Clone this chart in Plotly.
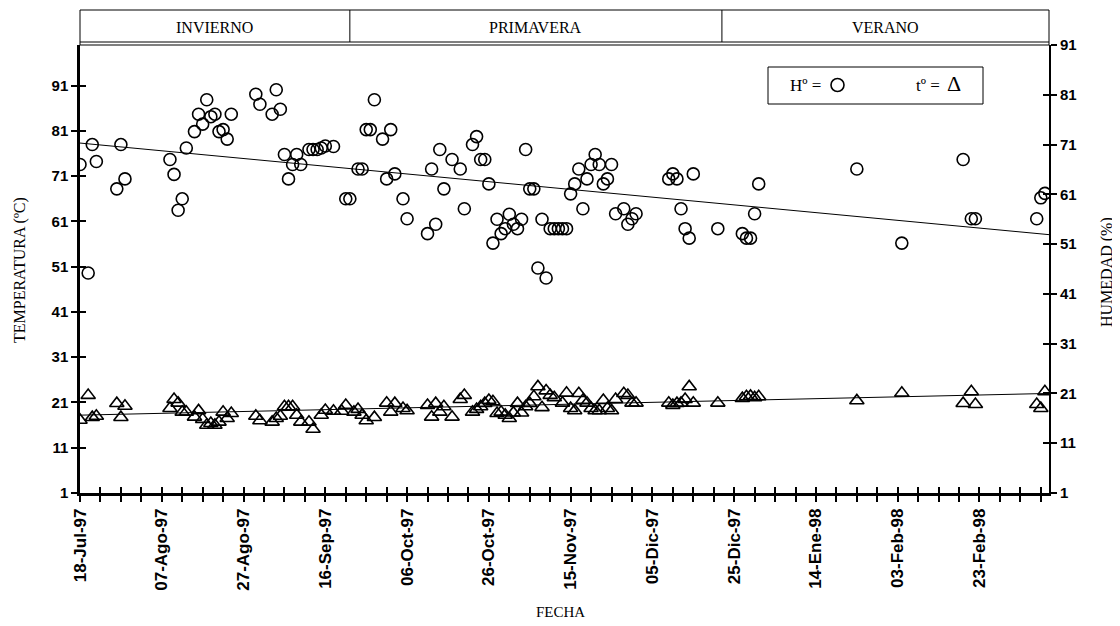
import plotly.graph_objects as go
import pandas as pd

# ---------------- data ----------------
fechas_h = ["1997-07-18","1997-07-20","1997-07-21","1997-07-22","1997-07-27","1997-07-28","1997-07-29",
            "1997-08-09","1997-08-10","1997-08-11","1997-08-12","1997-08-13","1997-08-15","1997-08-16",
            "1997-08-17","1997-08-18","1997-08-19","1997-08-20","1997-08-21","1997-08-22","1997-08-23",
            "1997-08-24","1997-08-30","1997-08-31","1997-09-03","1997-09-04","1997-09-05","1997-09-06",
            "1997-09-07","1997-09-08","1997-09-09","1997-09-10","1997-09-12","1997-09-13","1997-09-14",
            "1997-09-15","1997-09-16","1997-09-18","1997-09-21","1997-09-22","1997-09-24","1997-09-25",
            "1997-09-26","1997-09-27","1997-09-28","1997-09-30","1997-10-01","1997-10-02","1997-10-03",
            "1997-10-05","1997-10-06","1997-10-11","1997-10-12","1997-10-13","1997-10-14","1997-10-15",
            "1997-10-17","1997-10-19","1997-10-20","1997-10-22","1997-10-23","1997-10-24","1997-10-25",
            "1997-10-26","1997-10-27","1997-10-28","1997-10-29","1997-10-30","1997-10-31","1997-11-01",
            "1997-11-02","1997-11-03","1997-11-04","1997-11-05","1997-11-06","1997-11-07","1997-11-08",
            "1997-11-09","1997-11-10","1997-11-11","1997-11-12","1997-11-13","1997-11-14","1997-11-15",
            "1997-11-16","1997-11-17","1997-11-18","1997-11-19","1997-11-20","1997-11-21","1997-11-22",
            "1997-11-23","1997-11-24","1997-11-25","1997-11-26","1997-11-28","1997-11-29","1997-11-30",
            "1997-12-01","1997-12-09","1997-12-10","1997-12-11","1997-12-12","1997-12-13","1997-12-14",
            "1997-12-15","1997-12-21","1997-12-27","1997-12-28","1997-12-29","1997-12-30","1997-12-31",
            "1998-01-24","1998-02-04","1998-02-19","1998-02-21","1998-02-22","1998-03-09","1998-03-10",
            "1998-03-11"]
humedad = [67.0,45.2,71.0,67.6,62.1,71.0,64.1,
           68.0,65.0,57.8,60.1,70.3,73.6,77.1,
           75.1,80.0,76.6,77.1,73.6,74.0,72.1,
           77.1,81.1,79.1,77.1,82.0,78.1,69.0,
           64.1,67.0,69.0,67.0,70.0,70.0,70.0,
           70.3,70.7,70.6,60.1,60.1,66.1,66.1,
           74.0,74.0,80.0,72.1,64.1,74.0,65.1,
           60.1,56.1,53.1,66.1,55.0,70.0,62.1,
           68.0,66.1,58.1,71.0,72.6,68.0,68.0,
           63.1,51.2,56.0,53.1,54.1,57.0,55.0,
           54.1,56.0,70.0,62.1,62.1,46.2,56.0,
           44.2,54.1,54.1,54.1,54.1,54.1,61.1,
           63.1,66.1,58.1,64.1,67.0,69.0,67.0,
           63.1,64.1,67.0,57.1,58.1,55.0,56.1,
           57.1,64.1,65.1,64.1,58.1,54.1,52.2,
           65.1,54.1,53.1,52.2,52.2,57.1,63.1,
           66.1,51.2,68.0,56.1,56.1,56.1,60.3,
           61.2]

fechas_t = ["1997-07-18","1997-07-20","1997-07-21","1997-07-22","1997-07-27","1997-07-28","1997-07-29",
            "1997-08-09","1997-08-10","1997-08-11","1997-08-12","1997-08-13","1997-08-15","1997-08-16",
            "1997-08-17","1997-08-18","1997-08-19","1997-08-20","1997-08-21","1997-08-22","1997-08-23",
            "1997-08-24","1997-08-30","1997-08-31","1997-09-03","1997-09-04","1997-09-05","1997-09-06",
            "1997-09-07","1997-09-08","1997-09-09","1997-09-10","1997-09-12","1997-09-13","1997-09-15",
            "1997-09-16","1997-09-18","1997-09-20","1997-09-21","1997-09-23","1997-09-24","1997-09-25",
            "1997-09-26","1997-09-28","1997-10-01","1997-10-02","1997-10-03","1997-10-05","1997-10-06",
            "1997-10-11","1997-10-12","1997-10-13","1997-10-14","1997-10-15","1997-10-17","1997-10-19",
            "1997-10-20","1997-10-22","1997-10-23","1997-10-24","1997-10-25","1997-10-26","1997-10-27",
            "1997-10-28","1997-10-29","1997-10-30","1997-10-31","1997-11-01","1997-11-02","1997-11-03",
            "1997-11-04","1997-11-05","1997-11-06","1997-11-07","1997-11-08","1997-11-09","1997-11-10",
            "1997-11-11","1997-11-13","1997-11-14","1997-11-15","1997-11-16","1997-11-17","1997-11-18",
            "1997-11-19","1997-11-20","1997-11-21","1997-11-22","1997-11-23","1997-11-24","1997-11-25",
            "1997-11-26","1997-11-28","1997-11-29","1997-11-30","1997-12-01","1997-12-09","1997-12-10",
            "1997-12-11","1997-12-12","1997-12-13","1997-12-14","1997-12-15","1997-12-21","1997-12-27",
            "1997-12-28","1997-12-29","1997-12-30","1997-12-31","1998-01-24","1998-02-04","1998-02-19",
            "1998-02-21","1998-02-22","1998-03-09","1998-03-10","1998-03-11"]
temperatura = [17.1,22.6,17.7,18.0,20.8,17.7,20.2,
               19.7,21.7,20.9,18.9,18.9,17.8,19.2,
               17.3,16.0,16.4,16.0,16.7,18.9,17.5,
               18.6,18.0,17.0,16.7,17.5,18.0,20.1,
               20.1,20.1,18.2,16.7,16.7,15.1,18.2,
               19.3,19.1,19.1,20.4,18.9,19.5,18.2,
               17.0,17.7,20.9,18.9,20.8,19.7,19.2,
               20.4,17.8,20.8,18.9,20.1,17.8,21.7,
               22.6,18.9,19.5,20.1,20.8,21.5,21.2,
               18.6,18.9,18.2,17.5,18.7,20.8,18.7,
               20.1,20.8,22.3,24.5,19.9,23.6,22.6,
               22.1,20.9,23.1,19.7,19.2,23.0,21.5,
               20.9,19.7,19.2,19.2,21.5,19.7,19.2,
               21.7,23.0,22.6,20.9,20.9,20.9,20.4,
               20.8,20.9,21.7,24.5,20.9,20.9,21.9,
               22.3,22.4,22.1,22.3,21.4,23.1,20.8,
               23.4,20.6,20.6,19.7,23.4]

tendencia_fechas = ["1997-07-18", "1998-03-12"]
tendencia_h = [71.3, 52.9]
tendencia_t = [18.2, 23.0]

estaciones = ["INVIERNO", "PRIMAVERA", "VERANO"]
limites_estaciones = ["1997-07-18", "1997-09-22", "1997-12-22", "1998-03-12"]

meses = {1: "Ene", 2: "Feb", 3: "Mar", 7: "Jul", 8: "Ago", 9: "Sep",
         10: "Oct", 11: "Nov", 12: "Dic"}
rango_x = ["1997-07-18", "1998-03-12"]
rango_t = [1, 100]
rango_h = [1, 91]
ticks_y = [1, 11, 21, 31, 41, 51, 61, 71, 81, 91]

# ---------------- ticks ----------------
tick_fechas = pd.date_range("1997-07-18", "1998-03-11", freq="5D")
tick_text = [f"{d.day:02d}-{meses[d.month]}-{d.strftime('%y')}" if i % 4 == 0 else ""
             for i, d in enumerate(tick_fechas)]
tick_vals = [d.strftime("%Y-%m-%d") for d in tick_fechas]

SERIF = "Liberation Serif"
SANS = "Liberation Sans"
ytickfont = dict(family=SANS, size=15, color="black", weight="bold")
xtickfont = dict(family=SANS, size=17, color="black", weight="bold")

fig = go.Figure()

# trend lines
fig.add_trace(go.Scatter(x=tendencia_fechas, y=tendencia_h, mode="lines",
                         line=dict(color="black", width=1), yaxis="y2", showlegend=False))
fig.add_trace(go.Scatter(x=tendencia_fechas, y=tendencia_t, mode="lines",
                         line=dict(color="black", width=1), yaxis="y", showlegend=False))
# humidity circles (right axis)
fig.add_trace(go.Scatter(x=fechas_h, y=humedad, mode="markers", yaxis="y2",
                         marker=dict(symbol="circle-open", size=12, color="black",
                                     line=dict(width=1.6, color="black")),
                         showlegend=False))
# temperature triangles (left axis)
fig.add_trace(go.Scatter(x=fechas_t, y=temperatura, mode="markers", yaxis="y",
                         marker=dict(symbol="triangle-up-open", size=12.5, color="black",
                                     line=dict(width=1.6, color="black")),
                         showlegend=False))
# helper invisible traces for crossing tick overlays
fig.add_trace(go.Scatter(x=[rango_x[0]], y=[None], xaxis="x2", yaxis="y", showlegend=False,
                         hoverinfo="skip"))
fig.add_trace(go.Scatter(x=[rango_x[0]], y=[None], xaxis="x", yaxis="y3", showlegend=False,
                         hoverinfo="skip"))
fig.add_trace(go.Scatter(x=[rango_x[0]], y=[None], xaxis="x", yaxis="y4", showlegend=False,
                         hoverinfo="skip"))

# page has an 8px body margin: plot area at page x 80..1049, y 45..493
fig.update_layout(
    width=1120, height=626,
    margin=dict(l=72, r=79, t=37, b=141),
    paper_bgcolor="white", plot_bgcolor="white",
    xaxis=dict(type="date", range=rango_x, tickmode="array", tickvals=tick_vals, ticktext=tick_text,
               ticks="outside", ticklen=6, tickwidth=1.5, tickcolor="black", tickangle=-90,
               tickfont=xtickfont, showline=True, linewidth=2.5, linecolor="black",
               showgrid=False, zeroline=False, anchor="y"),
    xaxis2=dict(type="date", range=rango_x, overlaying="x", side="bottom", anchor="y",
                tickmode="array", tickvals=tick_vals, ticks="inside", ticklen=6, tickwidth=1.5,
                tickcolor="black", showticklabels=False, showline=False, showgrid=False,
                zeroline=False),
    yaxis=dict(range=rango_t, tickmode="array", tickvals=ticks_y, ticks="outside", ticklen=6,
               tickwidth=1.5, tickcolor="black", tickfont=ytickfont, showline=True, linewidth=2.5,
               linecolor="black", showgrid=False, zeroline=False, anchor="x"),
    yaxis2=dict(range=rango_h, overlaying="y", side="right", tickmode="array", tickvals=ticks_y,
                ticks="outside", ticklen=6, tickwidth=1.5, tickcolor="black", tickfont=ytickfont,
                showline=True, linewidth=2, linecolor="black", showgrid=False, zeroline=False,
                anchor="x"),
    yaxis3=dict(range=rango_t, overlaying="y", side="left", tickmode="array", tickvals=ticks_y,
                ticks="inside", ticklen=6, tickwidth=1.5, tickcolor="black", showticklabels=False,
                showline=False, showgrid=False, zeroline=False, anchor="x"),
    yaxis4=dict(range=rango_h, overlaying="y", side="right", tickmode="array", tickvals=ticks_y,
                ticks="inside", ticklen=6, tickwidth=1.5, tickcolor="black", showticklabels=False,
                showline=False, showgrid=False, zeroline=False, anchor="x"),
)

# ---------------- season strip ----------------
PH = 448.0   # plot height px
PW = 969.0   # plot width px
strip_top = 1 + 35 / PH
strip_bot = 1 + 3 / PH
shapes = [
    dict(type="rect", xref="paper", yref="paper", x0=0, x1=1, y0=1, y1=strip_top,
         line=dict(color="black", width=1), fillcolor="rgba(0,0,0,0)"),
    dict(type="line", xref="paper", yref="paper", x0=0, x1=1, y0=strip_bot, y1=strip_bot,
         line=dict(color="black", width=1)),
]
for lim in limites_estaciones[1:-1]:
    shapes.append(dict(type="line", xref="x", yref="paper", x0=lim, x1=lim,
                       y0=strip_bot, y1=strip_top, line=dict(color="black", width=1)))

def px_x(px):
    return (px - 80) / PW
def px_y(py):
    return (493 - py) / PH

annotations = []
lims = pd.to_datetime(limites_estaciones)
for i, nombre in enumerate(estaciones):
    mid = lims[i] + (lims[i + 1] - lims[i]) / 2
    annotations.append(dict(x=mid.strftime("%Y-%m-%d %H:%M"), xref="x", y=px_y(28),
                            yref="paper", text=nombre, showarrow=False,
                            font=dict(family=SERIF, size=16, color="black"),
                            xanchor="center", yanchor="middle"))

# ---------------- legend box ----------------
shapes.append(dict(type="rect", xref="paper", yref="paper", x0=px_x(768), x1=px_x(983),
                   y0=px_y(104), y1=px_y(67), line=dict(color="black", width=1),
                   fillcolor="white"))
shapes.append(dict(type="circle", xref="paper", yref="paper", x0=px_x(831), x1=px_x(844),
                   y0=px_y(91.5), y1=px_y(78.5), line=dict(color="black", width=1.6)))
annotations.append(dict(x=px_x(788), y=px_y(86), xref="paper", yref="paper", text="Hº =",
                        showarrow=False, xanchor="left", yanchor="middle",
                        font=dict(family=SERIF, size=17, color="black")))
annotations.append(dict(x=px_x(914), y=px_y(86), xref="paper", yref="paper", text="tº = ",
                        showarrow=False, xanchor="left", yanchor="middle",
                        font=dict(family=SERIF, size=17, color="black")))
annotations.append(dict(x=px_x(945), y=px_y(84), xref="paper", yref="paper", text="Δ",
                        showarrow=False, xanchor="left", yanchor="middle",
                        font=dict(family=SERIF, size=22, color="black")))

# ---------------- axis titles ----------------
annotations.append(dict(x=px_x(20), y=px_y(270), xref="paper", yref="paper",
                        text="TEMPERATURA (ºC)", textangle=-90, showarrow=False,
                        xanchor="center", yanchor="middle",
                        font=dict(family=SERIF, size=16, color="black")))
annotations.append(dict(x=px_x(1107), y=px_y(272), xref="paper", yref="paper",
                        text="HUMEDAD (%)", textangle=-90, showarrow=False,
                        xanchor="center", yanchor="middle",
                        font=dict(family=SERIF, size=16, color="black")))
annotations.append(dict(x=px_x(560), y=px_y(612), xref="paper", yref="paper",
                        text="FECHA", showarrow=False, xanchor="center", yanchor="middle",
                        font=dict(family=SERIF, size=15, color="black")))

fig.update_layout(shapes=shapes, annotations=annotations)
fig.write_html("out.html")
